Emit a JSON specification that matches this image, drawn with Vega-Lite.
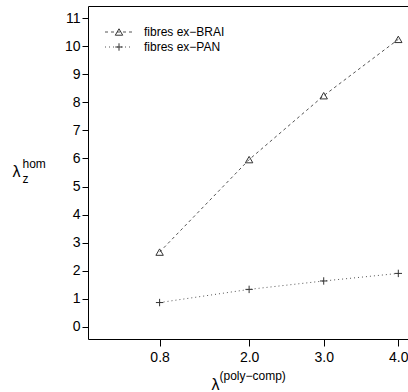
{
  "$schema": "https://vega.github.io/schema/vega-lite/v6.json",
  "width": 320,
  "height": 333,
  "autosize": {"type": "none"},
  "padding": {"left": 88, "top": 6, "right": 0, "bottom": 53},
  "background": "white",
  "config": {
    "view": {"stroke": null},
    "font": "Liberation Sans",
    "axis": {"grid": false, "labelFlush": false, "labelOverlap": false, "titleFontWeight": "normal", "titleColor": "black", "labelColor": "black", "domainColor": "black", "tickColor": "black", "labelFont": "Liberation Sans", "titleFont": "Liberation Sans"}
  },
  "data": {
    "values": [
      {"x": 0.8, "y": 2.66, "series": "fibres ex−BRAI", "kind": "fibres ex−BRAI"},
      {"x": 2.0, "y": 5.96, "series": "fibres ex−BRAI", "kind": "fibres ex−BRAI"},
      {"x": 3.0, "y": 8.24, "series": "fibres ex−BRAI", "kind": "fibres ex−BRAI"},
      {"x": 4.0, "y": 10.25, "series": "fibres ex−BRAI", "kind": "fibres ex−BRAI"},
      {"x": 0.8, "y": 0.86, "series": "fibres ex−PAN", "kind": "fibres ex−PAN"},
      {"x": 2.0, "y": 1.33, "series": "fibres ex−PAN", "kind": "fibres ex−PAN"},
      {"x": 3.0, "y": 1.63, "series": "fibres ex−PAN", "kind": "fibres ex−PAN"},
      {"x": 4.0, "y": 1.9, "series": "fibres ex−PAN", "kind": "fibres ex−PAN"}
    ]
  },
  "layer": [
    {
      "mark": {"type": "line", "color": "#555", "strokeWidth": 1},
      "encoding": {
        "x": {
          "field": "x", "type": "quantitative",
          "scale": {"domain": [-0.16, 4.13], "nice": false, "zero": false},
          "axis": {"orient": "bottom", "values": [0.8, 2, 3, 4], "format": ".1f", "tickSize": 7, "labelFontSize": 14, "labelPadding": 4,
            "title": "λ", "titleFontSize": 16, "titleX": 123, "titleY": 50, "titleAlign": "left", "titleBaseline": "alphabetic", "titleAnchor": null}
        },
        "y": {
          "field": "y", "type": "quantitative",
          "scale": {"domain": [-0.44, 11.44], "nice": false, "zero": false},
          "axis": {"orient": "left", "values": [0, 1, 2, 3, 4, 5, 6, 7, 8, 9, 10, 11], "tickSize": 6, "labelFontSize": 14, "labelPadding": 2,
            "title": "λ", "titleFontSize": 16, "titleAngle": 0, "titleX": -76, "titleY": 170, "titleAlign": "left", "titleBaseline": "alphabetic", "titleAnchor": null}
        },
        "strokeDash": {
          "field": "series", "type": "nominal",
          "scale": {"range": [[3, 3], [1, 3]]},
          "legend": {"orient": "none", "legendX": 25, "legendY": 20, "title": null, "padding": 0,
            "symbolType": "M-3,0H3", "symbolSize": 87, "symbolStrokeColor": "#555", "symbolStrokeWidth": 1, "symbolFillColor": "transparent",
            "labelFontSize": 12, "labelFont": "Liberation Sans", "labelColor": "black", "labelOffset": 19, "rowPadding": 3}
        }
      }
    },
    {
      "mark": {"type": "point", "filled": false, "color": "#333", "strokeWidth": 1, "opacity": 1},
      "encoding": {
        "x": {
          "field": "x", "type": "quantitative",
          "scale": {"domain": [-0.16, 4.13], "nice": false, "zero": false},
          "axis": {"orient": "top", "ticks": false, "labels": false, "domain": true,
            "title": "(poly−comp)", "titleFontSize": 12, "titleX": 131, "titleY": 373, "titleAlign": "left", "titleBaseline": "alphabetic", "titleAnchor": null}
        },
        "y": {
          "field": "y", "type": "quantitative",
          "scale": {"domain": [-0.44, 11.44], "nice": false, "zero": false},
          "axis": {"orient": "right", "ticks": false, "labels": false, "domain": false,
            "title": ["hom", "z"], "titleFontSize": 12, "titleLineHeight": 15, "titleAngle": 0, "titleX": -386, "titleY": 161, "titleAlign": "left", "titleBaseline": "alphabetic", "titleAnchor": null}
        },
        "shape": {
          "field": "kind", "type": "nominal",
          "scale": {"range": ["triangle-up", "M-1,0H1M0,-1V1"]},
          "legend": {"orient": "none", "legendX": 25, "legendY": 20, "title": null, "padding": 0,
            "symbolSize": 55, "symbolStrokeColor": "#333", "symbolStrokeWidth": 1, "symbolFillColor": "white",
            "labelFontSize": 12, "labelFont": "Liberation Sans", "labelOpacity": 0, "labelOffset": 19, "rowPadding": 3}
        },
        "size": {"value": 55}
      }
    }
  ],
  "resolve": {"axis": {"x": "independent", "y": "independent"}}
}
